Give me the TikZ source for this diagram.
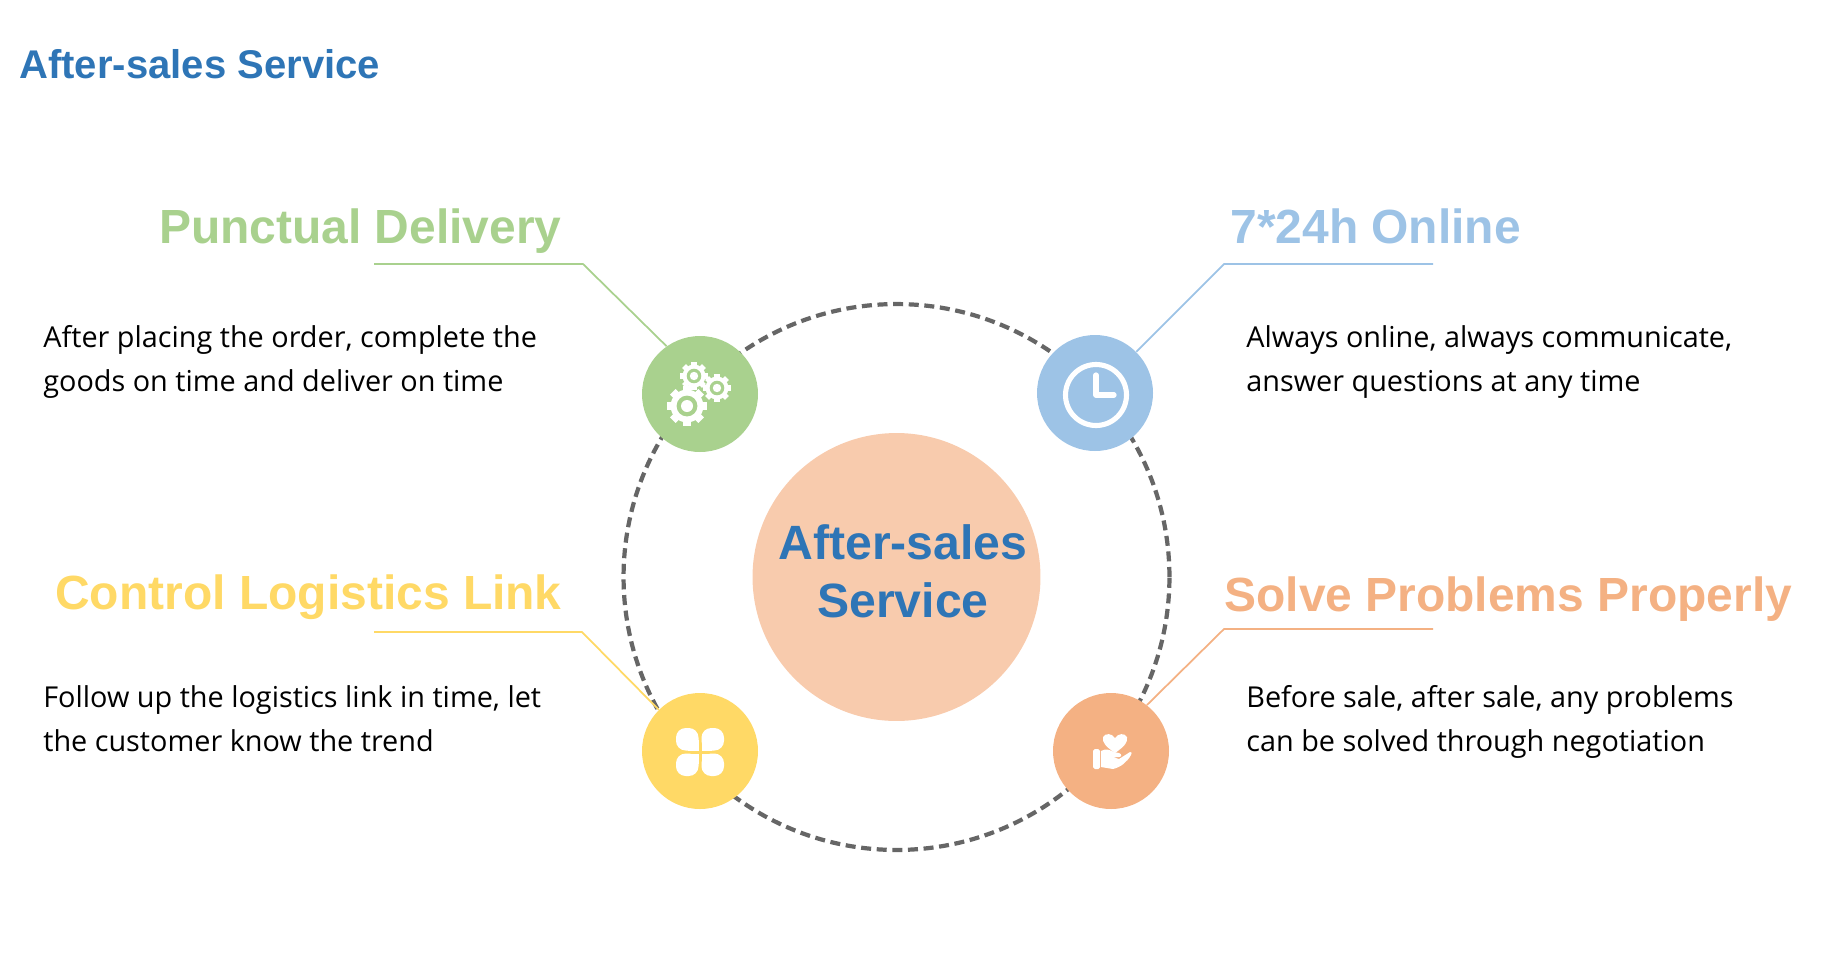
\documentclass[tikz,border=0pt]{standalone}
\usepackage{fontspec}
\setmainfont{Open Sans}
\newfontfamily\headfont{Liberation Sans}
\usepackage{xcolor}
\definecolor{titleblue}{HTML}{2E75B6}
\definecolor{leafgreen}{HTML}{A9D18E}
\definecolor{skyblue}{HTML}{9DC3E6}
\definecolor{sunyellow}{HTML}{FFD966}
\definecolor{softorange}{HTML}{F4B183}
\definecolor{paleorange}{HTML}{F8CBAD}
\definecolor{ringgray}{HTML}{666666}
\tikzset{
  dot/.style={circle,fill=#1,minimum size=2.32cm,inner sep=0pt},
  heading/.style={font=\headfont\bfseries\fontsize{27.3}{31}\selectfont,text=#1,inner sep=0pt},
  body/.style={font=\fontsize{16.4}{25}\selectfont,align=left,inner sep=0pt,anchor=west},
  link/.style={draw=#1,line width=1pt}
}
% gear: centre x, centre y, outer radius
\newcommand{\gearicon}[3]{
  \foreach \a in {0,45,...,315}
    \fill[white,shift={(#1,#2)},rotate=\a] (-0.2*#3,0) rectangle (0.2*#3,#3);
  \fill[white] (#1,#2) circle[radius=0.82*#3];
  \fill[leafgreen] (#1,#2) circle[radius=0.52*#3];
  \fill[white] (#1,#2) circle[radius=0.3*#3];
}
\begin{document}
\begin{tikzpicture}[x=0.02cm,y=-0.02cm]
  \useasboundingbox (0,0) rectangle (1821,961);
  \node[heading=titleblue,anchor=base west,font=\headfont\bfseries\fontsize{22.8}{26}\selectfont] (title) at (19,78) {After-sales Service};

  \node[circle,draw=ringgray,line width=2.4pt,dash pattern=on 5.7pt off 3.2pt,minimum size=10.92cm,inner sep=0pt] (ring) at (896.5,577) {};
  \node[circle,fill=paleorange,minimum size=5.76cm,inner sep=0pt] (hub) at (896.5,577) {};
  \node[text=titleblue,font=\headfont\bfseries\fontsize{27.4}{33}\selectfont,align=center,inner sep=0pt] (hublabel) at (903,571) {After-sales\\Service};

  \node[dot=leafgreen] (punctual) at (700,394) {};
  \node[dot=skyblue] (online) at (1095,393) {};
  \node[dot=sunyellow] (logistics) at (700,751) {};
  \node[dot=softorange] (solve) at (1111,751) {};

  \coordinate (punctualend) at (374,264);
  \coordinate (punctualknee) at (583,264);
  \coordinate (onlineend) at (1433,264);
  \coordinate (onlineknee) at (1224,264);
  \coordinate (logisticsend) at (374,632);
  \coordinate (logisticsknee) at (582,632);
  \coordinate (solveend) at (1433,629);
  \coordinate (solveknee) at (1224,629);
  \draw[link=leafgreen] (punctualend) -- (punctualknee) -- (punctual.125);
  \draw[link=skyblue] (onlineend) -- (onlineknee) -- (online.45);
  \draw[link=sunyellow] (logisticsend) -- (logisticsknee) -- (logistics.135);
  \draw[link=softorange] (solveend) -- (solveknee) -- (solve.52);

  \node[heading=leafgreen,anchor=base east] (punctualhead) at (562,243) {Punctual Delivery};
  \node[heading=skyblue,anchor=base west] (onlinehead) at (1230,243) {7*24h Online};
  \node[heading=sunyellow,anchor=base east] (logisticshead) at (562,609) {Control Logistics Link};
  \node[heading=softorange,anchor=base west] (solvehead) at (1224,611) {Solve Problems Properly};

  \node[body] (punctualtext) at (43,362) {After placing the order, complete the\\goods on time and deliver on time};
  \node[body] (onlinetext) at (1246,362) {Always online, always communicate,\\answer questions at any time};
  \node[body] (logisticstext) at (43,719) {Follow up the logistics link in time, let\\the customer know the trend};
  \node[body] (solvetext) at (1246,722) {Before sale, after sale, any problems\\can be solved through negotiation};

  % gears
  \gearicon{687}{406}{20}
  \gearicon{694}{376}{14}
  \gearicon{717}{388}{14}

  % clock
  \draw[white,line width=2.9pt] (1096,395) circle[radius=30.5];
  \draw[white,line width=3pt,line cap=round,line join=round] (1096,375) -- (1096,395) -- (1114,395);

  % clover
  \foreach \a in {0,90,180,270} {
    \fill[white,shift={(700,752)},rotate=\a,rounded corners=5.5pt] (1.5,1.5) rectangle (24,24);
    \fill[white,shift={(700,752)},rotate=\a] (1.5,1.5) rectangle (12,12);
  }

  % hand and heart
  \fill[white] (1115,753) .. controls (1105,746) and (1102,742) .. (1103,737)
    .. controls (1105,733) and (1112,733) .. (1115,738)
    .. controls (1118,733) and (1125,733) .. (1127,737)
    .. controls (1128,742) and (1125,746) .. (1115,753) -- cycle;
  \fill[white,rounded corners=1pt] (1093,749) rectangle (1100,769);
  \fill[white] (1101,751) .. controls (1106,748) and (1110,750) .. (1114,752)
    -- (1119,753) .. controls (1122,754) and (1122,757) .. (1119,757) -- (1113,757)
    -- (1119,759) -- (1130,752) .. controls (1132,752) and (1132,753) .. (1131,755)
    .. controls (1127,762) and (1121,767) .. (1113,769) -- (1101,767) -- cycle;
\end{tikzpicture}
\end{document}
